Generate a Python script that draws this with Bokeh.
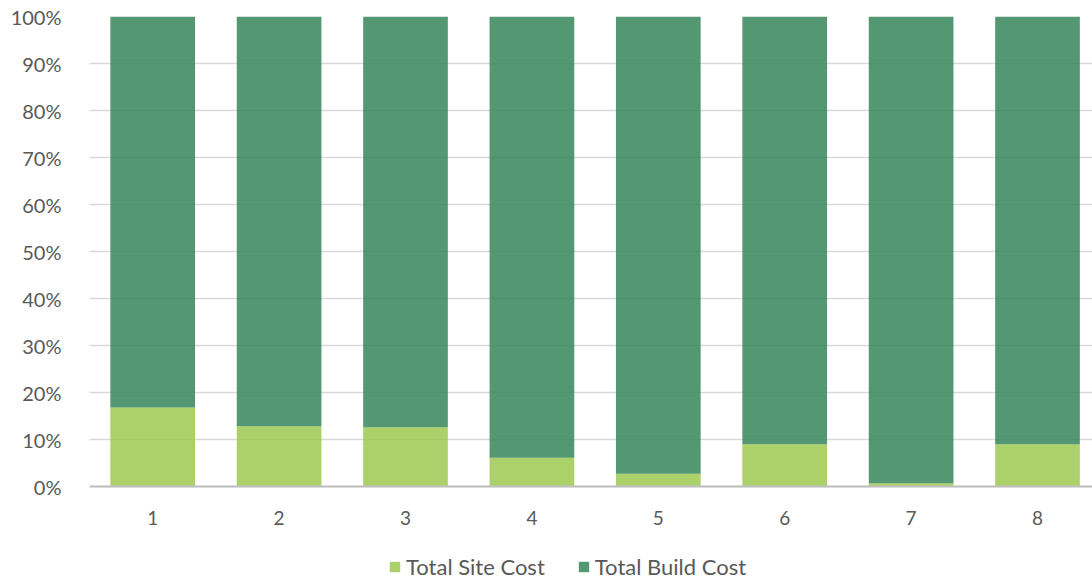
from bokeh.plotting import figure
from bokeh.models import Range1d, Legend, LegendItem, NumeralTickFormatter, FixedTicker, ColumnDataSource, Span
from bokeh.core.properties import value
from bokeh.embed import file_html
from bokeh.resources import INLINE

categories = [1, 2, 3, 4, 5, 6, 7, 8]
site_cost = [0.168, 0.128, 0.126, 0.061, 0.027, 0.090, 0.007, 0.090]
build_cost = [1 - v for v in site_cost]
series = ["Total Site Cost", "Total Build Cost"]
colors = ["#9DC951", "#358659"]
y_ticks = [0, 0.1, 0.2, 0.3, 0.4, 0.5, 0.6, 0.7, 0.8, 0.9, 1.0]

FRAME_H_DATA = 470.0  # pixels per 100%
BELOW_PX = 95.0       # space under the baseline kept inside the frame

src = ColumnDataSource(dict(x=categories, site=site_cost, build=build_cost))

p = figure(frame_width=1003, frame_height=565, output_backend="svg", toolbar_location=None,
           x_range=Range1d(0.5, 8.435), y_range=Range1d(-BELOW_PX / FRAME_H_DATA, 1),
           min_border_left=89, min_border_right=0, min_border_top=16, min_border_bottom=0)
p.outline_line_color = None
p.background_fill_color = "white"

renderers = p.vbar_stack(["site", "build"], x="x", width=0.67, source=src,
                         color=colors, fill_alpha=0.85, line_color=None)

font = "Lato"
p.yaxis.ticker = FixedTicker(ticks=y_ticks)
p.yaxis.formatter = NumeralTickFormatter(format="0%")
p.yaxis.axis_line_color = None
p.yaxis.major_tick_line_color = None
p.yaxis.minor_tick_line_color = None
p.yaxis.major_label_text_font = font
p.yaxis.major_label_text_font_size = "20px"
p.yaxis.major_label_text_color = "#595959"
p.yaxis.major_label_standoff = 22

p.xaxis.visible = False
p.xgrid.grid_line_color = None
p.ygrid.grid_line_color = "#d9d9d9"
p.ygrid.grid_line_width = 1.5
p.ygrid.ticker = FixedTicker(ticks=y_ticks)

# baseline (category axis line)
p.add_layout(Span(location=0, dimension="width", line_color="#bfbfbf", line_width=2))

# category labels
lab_src = ColumnDataSource(dict(x=categories, y=[-31 / FRAME_H_DATA] * len(categories),
                                t=[str(c) for c in categories]))
p.text(x="x", y="y", text="t", source=lab_src, text_align="center", text_baseline="middle",
       text_font=value(font), text_font_size="19px", text_color="#595959")

items = [LegendItem(label=series[i], renderers=[renderers[i]]) for i in range(2)]
legend = Legend(items=items, orientation="horizontal", location=(299, 1))
legend.label_text_font = font
legend.label_text_font_size = "22px"
legend.label_text_color = "#595959"
legend.glyph_width = 13
legend.glyph_height = 13
legend.spacing = 32
legend.label_standoff = 5
legend.border_line_color = None
legend.background_fill_alpha = 0
legend.padding = 0
legend.margin = 0
p.add_layout(legend, "center")

open("out.html", "w").write(file_html(p, INLINE))
